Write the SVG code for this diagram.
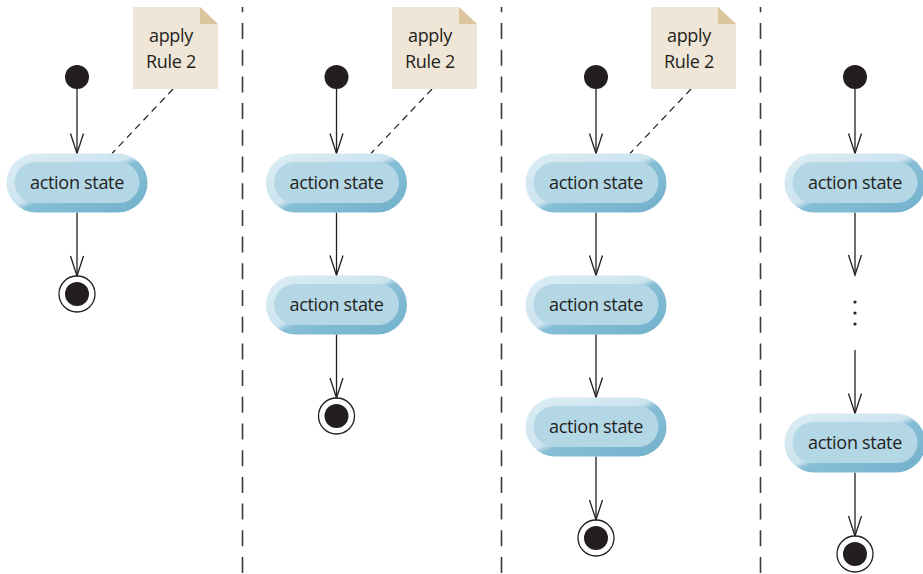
<svg xmlns="http://www.w3.org/2000/svg" width="923" height="574" viewBox="0 0 923 574">
  <defs>
    <linearGradient id="bevel" x1="0" y1="0" x2="1" y2="1">
      <stop offset="0" stop-color="#dcedf4"/>
      <stop offset="0.47" stop-color="#cde4ef"/>
      <stop offset="0.53" stop-color="#86bed6"/>
      <stop offset="1" stop-color="#72b0cb"/>
    </linearGradient>
    <marker id="open" markerUnits="userSpaceOnUse" viewBox="-22 -8 24 16" refX="0" refY="0" markerWidth="24" markerHeight="16" orient="auto">
      <path d="M-20,-6.5 L0,0 L-20,6.5" fill="none" stroke="#231f20" stroke-width="1.3"/>
    </marker>
    <style>
      .outer { fill: url(#bevel); }
      .inner { fill: #b4d7e6; }
      .lbl { font-family: "Open Sans", "Noto Sans", sans-serif; font-size: 18px; letter-spacing: -0.3px; fill: #231f20; text-anchor: middle; }
      .init { fill: #231f20; }
      .fring { fill: #ffffff; stroke: #231f20; stroke-width: 1.3; }
      .fdot { fill: #231f20; }
      .flow { stroke: #231f20; stroke-width: 1.3; fill: none; marker-end: url(#open); }
      .anchor { stroke: #231f20; stroke-width: 1.2; fill: none; stroke-dasharray: 7 5; }
      .sep { stroke: #3a3a3a; stroke-width: 1.6; fill: none; stroke-dasharray: 16 10.7; stroke-dashoffset: 10.7; }
      .note { fill: #f0e6d7; }
      .fold { fill: #dcc69d; }
      .dot { fill: #231f20; }
    </style>
  </defs>

  <g id="separators">
    <line class="sep" x1="242.5" y1="7" x2="242.5" y2="574"/>
    <line class="sep" x1="501.5" y1="7" x2="501.5" y2="574"/>
    <line class="sep" x1="760.5" y1="7" x2="760.5" y2="574"/>
  </g>

  <g id="connectors">
    <!-- column 1 -->
    <line class="flow" x1="77" y1="89" x2="77" y2="153.5"/>
    <line class="flow" x1="77" y1="212.5" x2="77" y2="276"/>
    <line class="anchor" x1="173" y1="89" x2="112" y2="153.5"/>
    <!-- column 2 -->
    <line class="flow" x1="336.5" y1="89" x2="336.5" y2="153.5"/>
    <line class="flow" x1="336.5" y1="212.5" x2="336.5" y2="275.5"/>
    <line class="flow" x1="336.5" y1="334.5" x2="336.5" y2="398"/>
    <line class="anchor" x1="432" y1="89" x2="371" y2="153.5"/>
    <!-- column 3 -->
    <line class="flow" x1="596" y1="89" x2="596" y2="153.5"/>
    <line class="flow" x1="596" y1="212.5" x2="596" y2="275.5"/>
    <line class="flow" x1="596" y1="334.5" x2="596" y2="397.5"/>
    <line class="flow" x1="596" y1="456.5" x2="596" y2="520"/>
    <line class="anchor" x1="691" y1="89" x2="630" y2="153.5"/>
    <!-- column 4 -->
    <line class="flow" x1="855" y1="89" x2="855" y2="153.5"/>
    <line class="flow" x1="855" y1="212.5" x2="855" y2="275"/>
    <line class="flow" x1="855" y1="350" x2="855" y2="413.5"/>
    <line class="flow" x1="855" y1="472.5" x2="855" y2="536"/>
  </g>

  <!-- column 1 -->
  <g id="c1-initial"><circle class="init" cx="77" cy="77" r="12"/></g>
  <g id="c1-note">
    <path class="note" d="M133,7 H200 L218,24 V89 H133 Z"/>
    <path class="fold" d="M200,7 L218,24 H200 Z"/>
    <text class="lbl" x="171" y="42">apply</text>
    <text class="lbl" x="171" y="68">Rule 2</text>
  </g>
  <g id="c1-action1">
    <rect class="outer" x="6.5" y="153.5" width="141" height="59" rx="29.5"/>
    <rect class="inner" x="14.5" y="162" width="125" height="41" rx="20.5"/>
    <text class="lbl" x="77" y="189">action state</text>
  </g>
  <g id="c1-final"><circle class="fring" cx="77" cy="294" r="18"/><circle class="fdot" cx="77" cy="294" r="12"/></g>

  <!-- column 2 -->
  <g id="c2-initial"><circle class="init" cx="336.5" cy="77" r="12"/></g>
  <g id="c2-note">
    <path class="note" d="M392,7 H459 L477,24 V89 H392 Z"/>
    <path class="fold" d="M459,7 L477,24 H459 Z"/>
    <text class="lbl" x="430" y="42">apply</text>
    <text class="lbl" x="430" y="68">Rule 2</text>
  </g>
  <g id="c2-action1">
    <rect class="outer" x="266" y="153.5" width="141" height="59" rx="29.5"/>
    <rect class="inner" x="274" y="162" width="125" height="41" rx="20.5"/>
    <text class="lbl" x="336.5" y="189">action state</text>
  </g>
  <g id="c2-action2">
    <rect class="outer" x="266" y="275.5" width="141" height="59" rx="29.5"/>
    <rect class="inner" x="274" y="284" width="125" height="41" rx="20.5"/>
    <text class="lbl" x="336.5" y="311">action state</text>
  </g>
  <g id="c2-final"><circle class="fring" cx="336.5" cy="416" r="18"/><circle class="fdot" cx="336.5" cy="416" r="12"/></g>

  <!-- column 3 -->
  <g id="c3-initial"><circle class="init" cx="596" cy="77" r="12"/></g>
  <g id="c3-note">
    <path class="note" d="M651,7 H718 L736,24 V89 H651 Z"/>
    <path class="fold" d="M718,7 L736,24 H718 Z"/>
    <text class="lbl" x="689" y="42">apply</text>
    <text class="lbl" x="689" y="68">Rule 2</text>
  </g>
  <g id="c3-action1">
    <rect class="outer" x="525.5" y="153.5" width="141" height="59" rx="29.5"/>
    <rect class="inner" x="533.5" y="162" width="125" height="41" rx="20.5"/>
    <text class="lbl" x="596" y="189">action state</text>
  </g>
  <g id="c3-action2">
    <rect class="outer" x="525.5" y="275.5" width="141" height="59" rx="29.5"/>
    <rect class="inner" x="533.5" y="284" width="125" height="41" rx="20.5"/>
    <text class="lbl" x="596" y="311">action state</text>
  </g>
  <g id="c3-action3">
    <rect class="outer" x="525.5" y="397.5" width="141" height="59" rx="29.5"/>
    <rect class="inner" x="533.5" y="406" width="125" height="41" rx="20.5"/>
    <text class="lbl" x="596" y="433">action state</text>
  </g>
  <g id="c3-final"><circle class="fring" cx="596" cy="538" r="18"/><circle class="fdot" cx="596" cy="538" r="12"/></g>

  <!-- column 4 -->
  <g id="c4-initial"><circle class="init" cx="855" cy="77" r="12"/></g>
  <g id="c4-action1">
    <rect class="outer" x="784.5" y="153.5" width="141" height="59" rx="29.5"/>
    <rect class="inner" x="792.5" y="162" width="125" height="41" rx="20.5"/>
    <text class="lbl" x="855" y="189">action state</text>
  </g>
  <g id="c4-ellipsis">
    <circle class="dot" cx="855" cy="302" r="1.6"/>
    <circle class="dot" cx="855" cy="313" r="1.6"/>
    <circle class="dot" cx="855" cy="324" r="1.6"/>
  </g>
  <g id="c4-action2">
    <rect class="outer" x="784.5" y="413.5" width="141" height="59" rx="29.5"/>
    <rect class="inner" x="792.5" y="422" width="125" height="41" rx="20.5"/>
    <text class="lbl" x="855" y="449">action state</text>
  </g>
  <g id="c4-final"><circle class="fring" cx="855" cy="554" r="18"/><circle class="fdot" cx="855" cy="554" r="12"/></g>
</svg>
